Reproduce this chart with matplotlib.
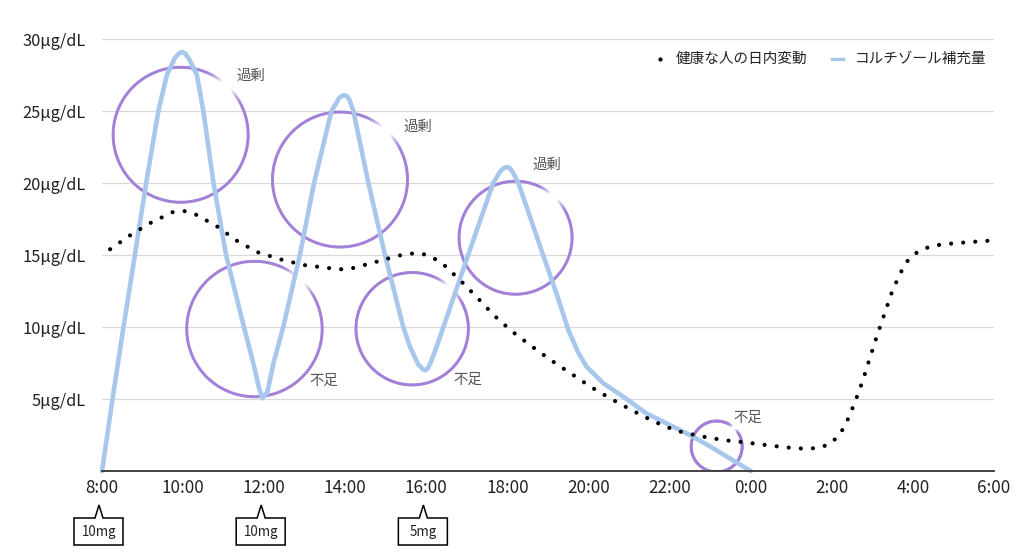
import numpy as np
import matplotlib
matplotlib.use("Agg")
import matplotlib.pyplot as plt
from matplotlib.collections import LineCollection
from matplotlib.patches import Polygon
from matplotlib.lines import Line2D
from matplotlib.transforms import IdentityTransform
from matplotlib.colors import to_rgba

plt.rcParams['font.family'] = ['Noto Sans CJK JP', 'DejaVu Sans']

# ---------------- data ----------------
x_tick_hours = [0, 2, 4, 6, 8, 10, 12, 14, 16, 18, 20, 22]
x_tick_labels = ["8:00", "10:00", "12:00", "14:00", "16:00", "18:00",
                 "20:00", "22:00", "0:00", "2:00", "4:00", "6:00"]
y_ticks = [5, 10, 15, 20, 25, 30]
y_tick_labels = ["5μg/dL", "10μg/dL", "15μg/dL", "20μg/dL", "25μg/dL", "30μg/dL"]

# コルチゾール補充量 (hours after 8:00, μg/dL)
supp_hours = [0, 0.26, 0.53, 0.81, 1.09, 1.39, 1.6, 1.8, 1.9, 1.97, 2.05, 2.15,
              2.34, 2.5, 2.75, 3.06, 3.5, 3.73, 3.88, 3.96, 4.08, 4.23, 4.47,
              4.88, 5.23, 5.66, 5.85, 5.92, 5.97, 6.03, 6.1, 6.2, 6.57, 6.98,
              7.43, 7.6, 7.8, 7.92, 7.97, 8.03, 8.1, 8.25, 8.42, 9.03, 9.65,
              9.82, 9.92, 9.98, 10.05, 10.12, 10.27, 10.88, 11.26, 11.5, 11.75,
              11.95, 12.36, 12.86, 13.43, 14.0, 14.5, 15.0, 15.5, 16.0]
supp_values = [0, 5, 10, 15, 20, 25, 27.5, 28.7, 29.0, 29.1, 29.0, 28.6,
               27.5, 25, 20, 15, 10, 7.5, 5.7, 5.05, 5.5, 7.5, 10,
               15, 20, 25, 25.9, 26.05, 26.1, 26.05, 25.8, 25, 20, 15,
               10, 8.6, 7.4, 7.05, 7.0, 7.1, 7.5, 8.6, 10, 15, 20,
               20.8, 21.05, 21.1, 21.05, 20.8, 20, 15, 11.9, 9.8, 8.2,
               7.25, 6.1, 5.15, 4.0, 3.2, 2.5, 1.7, 0.85, 0]

# 健康な人の日内変動
healthy_hours = [0.2, 0.71, 1.21, 1.74, 2.03, 2.32, 2.83, 3.32, 3.83, 4.4, 4.98,
                 5.57, 5.85, 6.16, 6.73, 7.31, 7.6, 7.89, 8.17, 8.42, 8.85, 9.27,
                 9.67, 10.11, 10.58, 11.07, 11.56, 12.05, 12.56, 13.09, 13.6,
                 14.16, 14.73, 15.32, 15.92, 16.49, 17.09, 17.38, 17.67, 17.96,
                 18.16, 18.33, 18.56, 18.76, 18.94, 19.12, 19.31, 19.5, 19.75,
                 19.91, 20.15, 20.42, 20.72, 21.31, 21.92]
healthy_values = [15.4, 16.4, 17.25, 17.97, 18.05, 17.8, 17.0, 16.0, 15.2, 14.7, 14.3,
                  14.1, 14.0, 14.07, 14.5, 14.95, 15.1, 15.1, 14.8, 14.35, 13.2, 12.0,
                  10.8, 9.7, 8.7, 7.7, 6.78, 5.85, 5.0, 4.19, 3.45,
                  2.8, 2.43, 2.15, 1.97, 1.76, 1.58, 1.55, 1.6, 1.88,
                  2.43, 3.15, 4.7, 6.25, 7.87, 9.44, 11.0, 12.57, 14.07,
                  14.77, 15.28, 15.58, 15.74, 15.88, 16.0]

# annotation rings (centre hour, centre value, radius px)
ring_hours = [1.94, 5.87, 3.76, 7.65, 10.2, 15.16]
ring_values = [23.35, 20.24, 9.86, 9.88, 16.2, 1.7]
ring_radii = [67.5, 67.5, 67.7, 56.2, 56.5, 25.5]

label_texts = ["過剰", "過剰", "過剰", "不足", "不足", "不足"]
label_hours = [3.675, 7.78, 10.97, 5.48, 9.01, 15.93]
label_values = [27.43, 23.9, 21.25, 6.27, 6.32, 3.68]

dose_hours = [0, 4, 8]
dose_labels = ["10mg", "10mg", "5mg"]

legend_labels = ["健康な人の日内変動", "コルチゾール補充量"]

# ---------------- styles ----------------
W, H = 1024, 558
BLUE = "#a7c7ec"
PURPLE = "#a27fd8"
GRID = "#d9d9d9"
TEXT = "#222222"

fig = plt.figure(figsize=(W / 100, H / 100), dpi=100)
ax_left, ax_right, ax_top, ax_bottom = 102, 994, 39, 471
ax = fig.add_axes([ax_left / W, (H - ax_bottom) / H,
                   (ax_right - ax_left) / W, (ax_bottom - ax_top) / H])
ax.set_xlim(0, 22)
ax.set_ylim(0, 30)

px_per_hour = (ax_right - ax_left) / 22.0
px_per_unit = (ax_bottom - ax_top) / 30.0

for s in ["top", "right", "left"]:
    ax.spines[s].set_visible(False)
ax.spines["bottom"].set_color("#333333")
ax.spines["bottom"].set_linewidth(1.3)
ax.spines["bottom"].set_zorder(6)

ax.set_xticks(x_tick_hours)
ax.set_xticklabels(x_tick_labels, fontsize=12.3, color=TEXT)
ax.set_yticks(y_ticks)
ax.set_yticklabels(y_tick_labels, fontsize=11.8, color=TEXT)
ax.tick_params(axis="x", length=0, pad=6)
ax.tick_params(axis="y", length=0, pad=11.5)
ax.yaxis.grid(True, color=GRID, linewidth=0.9)
ax.set_axisbelow(True)

# rings with faded gap in the upper right
def ring(h, v, r):
    phi = np.deg2rad(np.arange(0, 361, 2.0))
    xs = h + r * np.cos(phi) / px_per_hour
    ys = v + r * np.sin(phi) / px_per_unit
    pts = np.column_stack([xs, ys])
    segs = np.stack([pts[:-1], pts[1:]], axis=1)
    mid = np.rad2deg((phi[:-1] + phi[1:]) / 2)
    d = np.abs(((mid - 47) + 180) % 360 - 180)
    a = np.clip((d - 5) / 16.0, 0, 1) * 0.88
    base = np.array(to_rgba(PURPLE))
    cols = np.tile(base, (len(mid), 1))
    cols[:, 3] = a
    lc = LineCollection(segs, colors=cols, linewidths=2.1, capstyle="round", zorder=2)
    ax.add_collection(lc)

for h, v, r in zip(ring_hours, ring_values, ring_radii):
    ring(h, v, r)

ax.plot(supp_hours, supp_values, color=BLUE, linewidth=3.3, clip_on=False,
        solid_joinstyle="round", solid_capstyle="round", zorder=3)
ax.plot(healthy_hours, healthy_values, color="black", linewidth=3.0,
        linestyle=(0, (0.01, 2.9)), dash_capstyle="round", zorder=4)

for t, h, v in zip(label_texts, label_hours, label_values):
    ax.text(h, v, t, fontsize=10.4, color="#555555", ha="center", va="center", zorder=5)

# dose callouts below the axis (pixel geometry from tick position)
for h, lab in zip(dose_hours, dose_labels):
    tx_disp, _ = ax.transData.transform((h, 0))
    tx = tx_disp - 3
    top, body_top, body_bot = 505, 518, 545
    img_pts = [(tx - 25, body_top), (tx - 4, body_top), (tx, top), (tx + 4, body_top),
               (tx + 24, body_top), (tx + 24, body_bot), (tx - 25, body_bot)]
    disp_pts = [(px, H - py) for px, py in img_pts]
    poly = Polygon(disp_pts, closed=True, fill=False, edgecolor="black",
                   linewidth=1.1, transform=IdentityTransform())
    fig.add_artist(poly)
    fig.text(tx / W, (H - 532) / H, lab, fontsize=9.6, color=TEXT,
             ha="center", va="center")

# legend (top right)
ly = (H - 59) / H
fig.add_artist(Line2D([660 / W], [ly], marker="o", markersize=2.0, color="black",
                      linestyle="none", transform=fig.transFigure))
fig.text(676 / W, ly, legend_labels[0], fontsize=10.5, color=TEXT, ha="left", va="center")
fig.add_artist(Line2D([832 / W, 843 / W], [ly, ly], color=BLUE, linewidth=2.4,
                      transform=fig.transFigure))
fig.text(855 / W, ly, legend_labels[1], fontsize=10.5, color=TEXT, ha="left", va="center")

fig.savefig("out.png", dpi=100, facecolor="white")
